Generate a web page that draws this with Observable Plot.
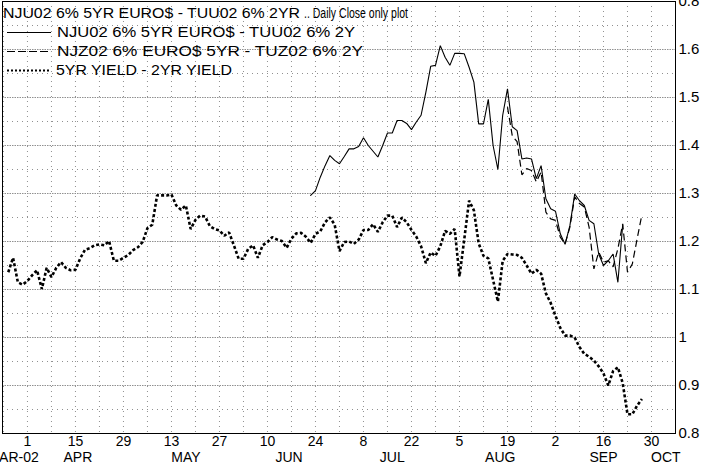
<!DOCTYPE html>
<html><head><meta charset="utf-8">
<script src="https://cdn.jsdelivr.net/npm/d3@7"></script>
<script src="https://cdn.jsdelivr.net/npm/@observablehq/plot@0.6"></script>
<style>
html,body{margin:0;padding:0;background:#fff;}
#wrap{position:relative;width:702px;height:468px;overflow:hidden;font-family:Arial,"Liberation Sans",sans-serif;}
#wrap > svg{display:block;}
.lg{position:absolute;font-size:14px;line-height:16px;height:16px;color:#000;white-space:nowrap;transform-origin:0 50%;}
.sw{position:absolute;left:0;}
</style></head><body><div id="wrap"></div>
<script>
// ---- data ----
const titleMain = "NJU02 6% 5YR EURO$ - TUU02 6% 2YR";
const titleTail = ".. Daily Close only plot";
const seriesNames = ["NJU02 6% 5YR EURO$ - TUU02 6% 2Y", "NJZ02 6% EURO$ 5YR - TUZ02 6% 2Y", "5YR YIELD - 2YR YIELD"];

const yieldStart = "2002-03-26";
const yieldSpread = [
 1.136,1.166,1.115,1.110,
 1.118,1.130,1.140,1.101,1.145, 1.126,1.145,1.157,1.145,1.140,
 1.141,1.165,1.183,1.186,1.192, 1.194,1.192,1.201,1.160,1.160,
 1.166,1.172,1.182,1.188,1.199, 1.228,1.235,1.296,1.296,1.296,
 1.298,1.275,1.266,1.275,1.226, 1.245,1.254,1.252,1.232,1.226,
 1.223,1.212,1.219,1.192,1.164, 1.164,1.185,1.192,1.166,1.192,
 1.199,1.209,1.204,1.201,1.187, 1.206,1.217,1.218,1.210,1.197,
 1.216,1.221,1.240,1.250,1.235, 1.180,1.199,1.200,1.195,1.204,
 1.224,1.224,1.236,1.220,1.240, 1.254,1.254,1.230,1.250,1.240,
 1.224,1.210,1.190,1.155,1.177, 1.170,1.190,1.222,1.216,1.226,
 1.127,1.205,1.285,1.265,1.196, 1.170,1.165,1.120,1.075,1.160,
 1.174,1.173,1.172,1.166,1.150, 1.133,1.141,1.133,1.092,1.072,
 1.045,1.020,1.004,1.004,1.000, 0.980,0.966,0.960,0.952,0.940,
 0.925,0.900,0.930,0.938,0.905, 0.840,0.840,0.858,0.872
];

const njuStart = "2002-06-21";
const njuSpread = [
 1.296,
 1.306,1.334,1.358,1.379,1.369, 1.362,1.377,1.393,1.393,1.398,
 1.416,1.400,1.388,1.376,1.400, 1.426,1.426,1.452,1.452,1.446,
 1.433,1.449,1.463,1.511,1.565, 1.567,1.608,1.584,1.567,1.592,
 1.592,1.591,1.563,1.532,1.445, 1.445,1.496,1.400,1.350,1.463,
 1.518,1.439,1.431,1.372,1.374, 1.372,1.331,1.358,1.289,1.268,
 1.263,1.216,1.194,1.233,1.299, 1.285,1.275,1.244,1.237,1.174,
 1.150,1.160,1.174,1.115,1.235
];

const njzStart = "2002-08-19";
const njzSpread = [
 1.480,1.420,1.408,1.339,1.352, 1.348,1.324,1.345,1.261,1.247,
 1.244,1.209,1.195,1.230,1.293, 1.279,1.272,1.230,1.143,1.178,
 1.157,1.160,1.147,1.185,1.237, 1.136,1.153,1.205,1.256
];

const tickDates = ["2002-04-01","2002-04-15","2002-04-29","2002-05-13","2002-05-27","2002-06-10","2002-06-24",
  "2002-07-08","2002-07-22","2002-08-05","2002-08-19","2002-09-02","2002-09-16","2002-09-30"];
const yTicks = [0.8,0.9,1,1.1,1.2,1.3,1.4,1.5,1.6,1.7];
const yTickLabels = ["0.8","0.9","1","1.1","1.2","1.3","1.4","1.5","1.6","0.8"];
const yMinor = [0.85,0.95,1.05,1.15,1.25,1.35,1.45,1.55,1.65];
const monthNames = ["MAR-02","APR","MAY","JUN","JUL","AUG","SEP","OCT"];

// ---- trading-day axis (weekdays) ----
const tradingDays = d3.utcDays(new Date("2002-03-25"), new Date("2002-10-08"))
  .filter(d => d.getUTCDay() !== 0 && d.getUTCDay() !== 6);
const dayIndex = new Map(tradingDays.map((d, i) => [+d, i]));
const idx = s => dayIndex.get(+new Date(s));
const xDomain = [-0.2, 140];

const rows = (start, vals) => { const s = idx(start); return vals.map((v, k) => ({i: s + k, v})); };
const yieldRows = rows(yieldStart, yieldSpread);
const njuRows = rows(njuStart, njuSpread);
const njzRows = rows(njzStart, njzSpread);

const tickIdx = tickDates.map(idx);
const tickLabel = new Map(tickDates.map(s => [idx(s), String(new Date(s).getUTCDate())]));
const weekIdx = tradingDays.map((d, i) => [d, i]).filter(([d]) => d.getUTCDay() === 1).map(([, i]) => i);
const yLabel = new Map(yTicks.map((t, k) => [Math.round(t * 100), yTickLabels[k]]));

const monthGroups = d3.groups(tradingDays.map((d, i) => ({m: d.getUTCMonth(), i})), r => r.m);
const monthRows = monthGroups.map(([m, g], k) => {
  const lo = Math.max(xDomain[0], d3.min(g, r => r.i)), hi = Math.min(xDomain[1], d3.max(g, r => r.i));
  return {i: (lo + hi) / 2, label: monthNames[k]};
});

const chart = Plot.plot({
  width: 702, height: 468,
  marginLeft: 2, marginRight: 27, marginTop: 1, marginBottom: 35,
  style: {fontFamily: 'Arial, "Liberation Sans", sans-serif', fontSize: "15px", color: "#000", background: "#fff", overflow: "visible"},
  x: {type: "linear", domain: xDomain, label: null},
  y: {domain: [0.8, 1.7], label: null},
  marks: [
    Plot.gridY({ticks: yMinor, stroke: "#909090", strokeOpacity: 1, strokeWidth: 1, strokeDasharray: "1,4"}),
    Plot.gridY({ticks: yTicks, stroke: "#909090", strokeOpacity: 1, strokeWidth: 1, strokeDasharray: "1.5,1"}),
    Plot.gridX({ticks: weekIdx, stroke: "#909090", strokeOpacity: 1, strokeWidth: 1, strokeDasharray: "1,4"}),
    Plot.line(yieldRows, {x: "i", y: "v", stroke: "#000", strokeWidth: 2.6, strokeDasharray: "3,2.2", strokeLinecap: "butt", strokeLinejoin: "miter"}),
    Plot.line(njuRows, {x: "i", y: "v", stroke: "#000", strokeWidth: 1.1, strokeLinejoin: "miter"}),
    Plot.line(njzRows, {x: "i", y: "v", stroke: "#000", strokeWidth: 1.2, strokeDasharray: "7,4", strokeLinecap: "butt", strokeLinejoin: "miter"}),
    Plot.frame({stroke: "#000", strokeWidth: 1}),
    Plot.axisY({anchor: "right", ticks: yTicks, tickSize: 0, tickPadding: 3, fontSize: 15,
      tickFormat: d => yLabel.get(Math.round(d * 100)), label: null}),
    Plot.axisX({anchor: "bottom", ticks: tickIdx, tickSize: 0, tickPadding: 3, fontSize: 14,
      tickFormat: d => tickLabel.get(d), label: null}),
    Plot.text(monthRows, {x: "i", frameAnchor: "bottom", dy: 24, lineAnchor: "middle", text: "label", fontSize: 14, fill: "#000"})
  ]
});
const wrap = document.getElementById("wrap");
wrap.appendChild(chart);

// ---- legend (inside plot, top-left) ----
function addText(top, left, text, targetWidth) {
  const s = document.createElement("div");
  s.className = "lg";
  s.style.top = top + "px";
  s.style.left = left + "px";
  s.textContent = text;
  wrap.appendChild(s);
  const w = s.getBoundingClientRect().width;
  if (w > 0 && targetWidth) s.style.transform = `scaleX(${targetWidth / w})`;
}
function addSwatch(top, w, dash) {
  const ns = "http://www.w3.org/2000/svg";
  const svg = document.createElementNS(ns, "svg");
  svg.setAttribute("class", "sw");
  svg.setAttribute("width", 56); svg.setAttribute("height", 16);
  svg.style.top = top + "px";
  const ln = document.createElementNS(ns, "line");
  ln.setAttribute("x1", 7); ln.setAttribute("x2", 51);
  ln.setAttribute("y1", 8.5); ln.setAttribute("y2", 8.5);
  ln.setAttribute("stroke", "#000"); ln.setAttribute("stroke-width", w);
  if (dash) ln.setAttribute("stroke-dasharray", dash);
  svg.appendChild(ln);
  wrap.appendChild(svg);
}
addText(5, 3, titleMain, 297);
addText(5, 304, titleTail, 104);
addSwatch(24, 1.1, null);
addText(24, 57, seriesNames[0], 298);
addSwatch(43, 1.2, "8,3");
addText(43, 57, seriesNames[1], 306);
addSwatch(62, 2.2, "2,2");
addText(62, 56, seriesNames[2], 176);
</script></body></html>
